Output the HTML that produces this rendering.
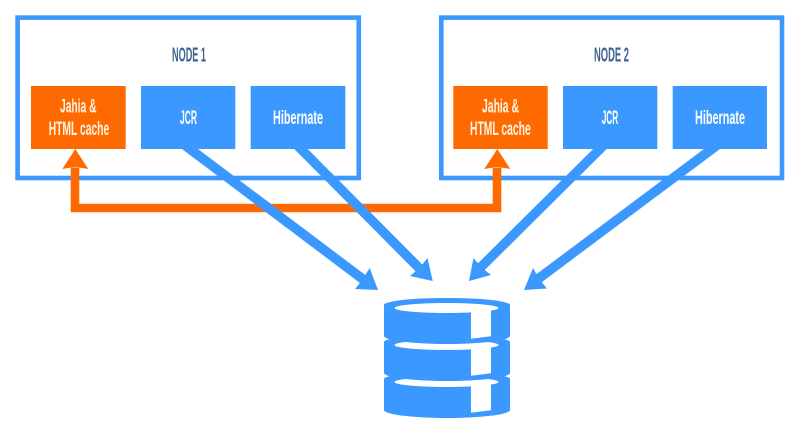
<!DOCTYPE html>
<html><head><meta charset="utf-8"><style>
html,body{margin:0;padding:0;background:#fff;width:800px;height:439px;overflow:hidden}
svg{display:block;filter:blur(0.3px)}
text{font-family:"Liberation Sans",sans-serif;font-weight:bold;fill:#fff;font-size:19px}
.n{fill:#3c6491;font-size:20px}
.c{fill:#fff3e2}
</style></head><body>
<svg width="800" height="439" viewBox="0 0 800 439" xmlns="http://www.w3.org/2000/svg">
<rect width="800" height="439" fill="#fff"/>
<g fill="none" stroke="#3a98fe" stroke-width="4.6">
<rect x="17.6" y="17.6" width="341.2" height="160.4"/>
<rect x="441.3" y="17.6" width="340.7" height="160.4"/>
</g>
<g fill="#3a98fe">
<rect x="141" y="86" width="94.3" height="63"/>
<rect x="250.7" y="86" width="94.6" height="63"/>
<rect x="563" y="86" width="94.3" height="63"/>
<rect x="672.7" y="86" width="94.3" height="63"/>
</g>
<g fill="#ff6a00">
<rect x="31" y="86" width="94.7" height="63"/>
<rect x="453.3" y="86" width="94.4" height="63"/>
<path d="M70.7,168 H79.3 V203.7 H492.7 V168 H501.3 V212.3 H70.7 Z"/>
<path d="M75.3,149 L88.3,169 Q82,167.5 75.3,167.5 Q68.6,167.5 62.3,169 Z"/>
<path d="M497.3,149 L510.3,169 Q504,167.5 497.3,167.5 Q490.6,167.5 484.3,169 Z"/>
</g>
<g stroke="#3a98fe" stroke-width="9.6" fill="none">
<path d="M182,143 L364,280"/>
<path d="M295,143 L420,269"/>
<path d="M606,143 L480,268"/>
<path d="M720,143 L538,279"/>
</g>
<g fill="#3a98fe">
<path d="M378,290 L369.7,268 L362.5,279.5 L355,289 Z"/>
<path d="M432.7,281 L427.5,258 L419.5,268 L410,276 Z"/>
<path d="M469,281 L473.5,258 L481.5,267.5 L491,275 Z"/>
<path d="M524,290 L533,268 L539.5,279.5 L547,288.5 Z"/>
</g>
<text class="n" x="172" y="61.5" textLength="34" lengthAdjust="spacingAndGlyphs">NODE 1</text>
<text class="n" x="594" y="61.5" textLength="35" lengthAdjust="spacingAndGlyphs">NODE 2</text>
<text class="c" x="60" y="112.5" textLength="36.5" lengthAdjust="spacingAndGlyphs">Jahia &amp;</text>
<text class="c" x="48.7" y="135" textLength="60.5" lengthAdjust="spacingAndGlyphs">HTML cache</text>
<text x="180" y="124" textLength="17" lengthAdjust="spacingAndGlyphs">JCR</text>
<text x="273" y="124" textLength="50" lengthAdjust="spacingAndGlyphs">Hibernate</text>
<text class="c" x="482" y="112.5" textLength="37" lengthAdjust="spacingAndGlyphs">Jahia &amp;</text>
<text class="c" x="470" y="135" textLength="60.7" lengthAdjust="spacingAndGlyphs">HTML cache</text>
<text x="601.7" y="124" textLength="16.5" lengthAdjust="spacingAndGlyphs">JCR</text>
<text x="695" y="124" textLength="50" lengthAdjust="spacingAndGlyphs">Hibernate</text>
<g transform="translate(0,74)">
<path fill="#3a98fe" d="M384,305 A63,7 0 0 1 510,305 V336 A63,8 0 0 1 384,336 Z"/>
<ellipse cx="446.5" cy="308" rx="52" ry="5" fill="#fff"/>
<path fill="#fff" d="M471,308 H491 V336.2 L471,338.8 Z"/>
</g>
<g transform="translate(0,37)">
<path fill="#3a98fe" d="M384,305 A63,7 0 0 1 510,305 V336 A63,8 0 0 1 384,336 Z"/>
<ellipse cx="446.5" cy="308" rx="52" ry="5" fill="#fff"/>
<path fill="#fff" d="M471,308 H491 V336.2 L471,338.8 Z"/>
</g>
<g>
<path fill="#3a98fe" d="M384,305 A63,7 0 0 1 510,305 V336 A63,8 0 0 1 384,336 Z"/>
<ellipse cx="446.5" cy="308" rx="52" ry="5" fill="#fff"/>
<path fill="#fff" d="M471,308 H491 V336.2 L471,338.8 Z"/>
</g>
</svg>
</body></html>
